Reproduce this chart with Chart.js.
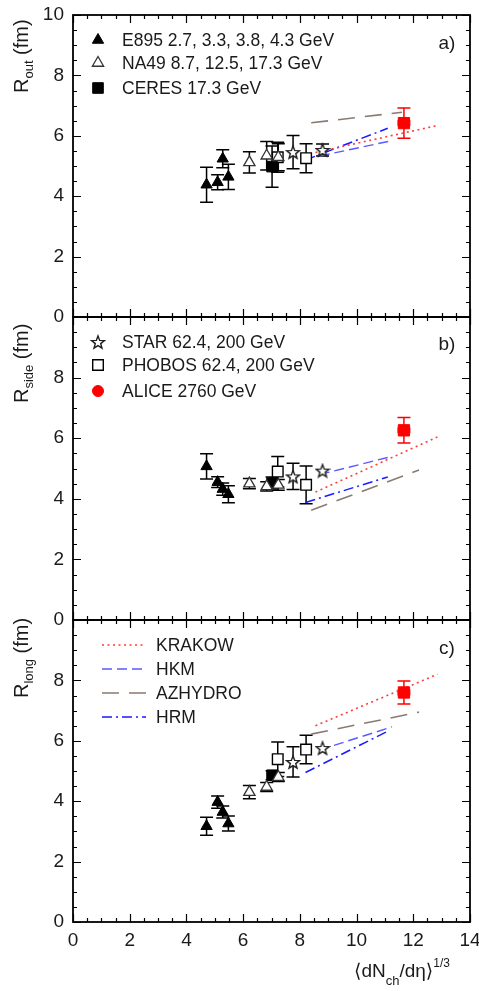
<!DOCTYPE html>
<html>
<head>
<meta charset="utf-8">
<script src="https://cdn.jsdelivr.net/npm/chart.js@4.4.0/dist/chart.umd.min.js"></script>
<style>
  html, body { margin: 0; padding: 0; background: #fff; }
  #wrap { position: relative; width: 479px; height: 991px; }
  #wrap canvas { position: absolute; left: 0; top: 0; }
</style>
</head>
<body>
<div id="wrap">
  <canvas id="cOut" width="479" height="991"></canvas>
  <canvas id="cSide" width="479" height="991"></canvas>
  <canvas id="cLong" width="479" height="991"></canvas>
</div>
<script>
// axes
const xTicks = [0, 2, 4, 6, 8, 10, 12, 14];
const yTicks = [0, 2, 4, 6, 8, 10];

// E895 (AGS)
const e895X = [4.71, 5.10, 5.28, 5.48];
const e895Out = [4.38, 4.46, 5.24, 4.64];
const e895OutErr = [0.58, 0.25, 0.30, 0.42];
const e895Side = [5.07, 4.55, 4.32, 4.15];
const e895SideErr = [0.42, 0.18, 0.20, 0.28];
const e895Long = [3.17, 3.97, 3.64, 3.26];
const e895LongErr = [0.30, 0.20, 0.20, 0.25];

// NA49
const na49X = [6.22, 6.83, 7.24];
const na49Out = [5.12, 5.34, 5.29];
const na49OutErr = [0.35, 0.47, 0.45];
const na49Side = [4.50, 4.41, 4.46];
const na49SideErr = [0.17, 0.15, 0.18];
const na49Long = [4.30, 4.47, 4.80];
const na49LongErr = [0.22, 0.15, 0.15];

// CERES
const ceresX = [7.02];
const ceresOut = [4.98];
const ceresOutErr = [0.68];
const ceresSide = [4.52];
const ceresSideErr = [0.20];
const ceresLong = [4.86];
const ceresLongErr = [0.15];

// STAR
const starX = [7.76, 8.80];
const starOut = [5.46, 5.53];
const starOutErr = [0.55, 0.20];
const starSide = [4.74, 4.93];
const starSideErr = [0.43, 0];
const starLong = [5.30, 5.76];
const starLongErr = [0.50, 0];

// PHOBOS
const phobosX = [7.22, 8.22];
const phobosOut = [5.29, 5.26];
const phobosOutErr = [0.50, 0.48];
const phobosSide = [4.90, 4.46];
const phobosSideErr = [0.50, 0.62];
const phobosLong = [5.39, 5.71];
const phobosLongErr = [0.57, 0.47];

// ALICE
const aliceX = [11.67];
const aliceXErr = [0.2];
const aliceOut = [6.42];
const aliceOutErr = [0.50];
const aliceSide = [6.26];
const aliceSideErr = [0.42];
const aliceLong = [7.60];
const aliceLongErr = [0.38];

// model predictions
const krakowX = [8.55, 12.85];
const krakowOut = [5.45, 6.34];
const krakowSide = [4.22, 6.04];
const krakowLong = [6.50, 8.20];

const hkmX = [8.70, 11.25];
const hkmOut = [5.33, 5.84];
const hkmSide = [4.80, 5.40];
const hkmLong = [5.70, 6.46];

const azhydroX = [8.40, 12.20];
const azhydroOutX = [8.40, 11.60];
const azhydroOut = [6.43, 6.78];
const azhydroSide = [3.62, 4.95];
const azhydroLong = [6.22, 6.95];

const hrmX = [8.20, 11.10];
const hrmOut = [5.20, 6.25];
const hrmSide = [3.88, 4.72];
const hrmLong = [4.95, 6.32];

const FONT = '"Liberation Sans", Arial, "DejaVu Sans", sans-serif';
const TEXT = '#1a1a1a';

function pts(xs, ys) {
  return xs.map((x, i) => ({ x: x, y: ys[i] }));
}

// five-pointed open star marker
function starMarker(size) {
  const c = document.createElement('canvas');
  c.width = c.height = size;
  const g = c.getContext('2d');
  const cx = size / 2, cy = size / 2 + 0.7, R = size / 2 - 1.2, r = R * 0.42;
  g.beginPath();
  for (let k = 0; k < 10; k++) {
    const a = -Math.PI / 2 + k * Math.PI / 5;
    const rr = k % 2 ? r : R;
    g.lineTo(cx + rr * Math.cos(a), cy + rr * Math.sin(a));
  }
  g.closePath();
  g.fillStyle = '#fff';
  g.fill();
  g.lineWidth = 1.4;
  g.strokeStyle = '#1e1e1e';
  g.stroke();
  return c;
}
const STAR = starMarker(16);

const markers = {
  e895: { pointStyle: 'triangle', radius: 6.5, bg: '#000', border: '#000', bw: 1 },
  na49: { pointStyle: 'triangle', radius: 6.5, bg: '#fff', border: '#333', bw: 1.3 },
  ceres: { pointStyle: 'rect', radius: 7.5, bg: '#000', border: '#000', bw: 1 },
  star: { pointStyle: STAR, radius: 7, bg: '#fff', border: '#333', bw: 1 },
  phobos: { pointStyle: 'rect', radius: 7.5, bg: '#fff', border: '#000', bw: 1.4 },
  alice: { pointStyle: 'rect', radius: 8, bg: '#ff0000', border: '#ff0000', bw: 1 },
  aliceKey: { pointStyle: 'circle', radius: 5.5, bg: '#ff0000', border: '#ff0000', bw: 1 }
};

const models = {
  krakow: { color: '#ff3b3b', dash: [2, 3.5], width: 1.6 },
  hkm: { color: '#5a5aff', dash: [10, 5], width: 1.4 },
  azhydro: { color: '#8a7a70', dash: [17, 10], width: 1.6 },
  hrm: { color: '#1a1aff', dash: [10, 4, 2, 4], width: 1.5 }
};

function pointSet(label, m, data, yErr, xErr, errColor) {
  return {
    label: label,
    data: data,
    yErr: yErr,
    xErr: xErr,
    errColor: errColor || '#000',
    pointStyle: m.pointStyle,
    pointRadius: m.radius,
    pointBackgroundColor: m.bg,
    pointBorderColor: m.border,
    pointBorderWidth: m.bw,
    showLine: false,
    order: 1
  };
}

function modelSet(label, m, data) {
  return {
    label: label,
    data: data,
    showLine: true,
    pointRadius: 0,
    borderColor: m.color,
    borderDash: m.dash,
    borderWidth: m.width,
    fill: false,
    order: 2
  };
}

function drawSubText(ctx, x, y, parts) {
  // parts: [text, size, dy]
  let cx = x;
  parts.forEach(p => {
    ctx.font = p[1] + 'px ' + FONT;
    ctx.fillText(p[0], cx, y + p[2]);
    cx += ctx.measureText(p[0]).width;
  });
}

const panelPlugin = {
  id: 'panel',
  beforeDatasetsDraw(chart) {
    const ctx = chart.ctx;
    const xs = chart.scales.x, ys = chart.scales.y;
    ctx.save();
    ctx.lineWidth = 1.5;
    chart.data.datasets.forEach(ds => {
      if (!ds.yErr) return;
      ctx.strokeStyle = ds.errColor;
      ds.data.forEach((p, i) => {
        const px = xs.getPixelForValue(p.x);
        const e = ds.yErr[i];
        if (e > 0) {
          const y1 = ys.getPixelForValue(p.y + e), y2 = ys.getPixelForValue(p.y - e);
          ctx.beginPath();
          ctx.moveTo(px, y1); ctx.lineTo(px, y2);
          ctx.moveTo(px - 6.5, y1); ctx.lineTo(px + 6.5, y1);
          ctx.moveTo(px - 6.5, y2); ctx.lineTo(px + 6.5, y2);
          ctx.stroke();
        }
        if (ds.xErr && ds.xErr[i] > 0) {
          const py = ys.getPixelForValue(p.y);
          const x1 = xs.getPixelForValue(p.x - ds.xErr[i]), x2 = xs.getPixelForValue(p.x + ds.xErr[i]);
          ctx.beginPath();
          ctx.moveTo(x1, py); ctx.lineTo(x2, py);
          ctx.moveTo(x1, py - 3); ctx.lineTo(x1, py + 3);
          ctx.moveTo(x2, py - 3); ctx.lineTo(x2, py + 3);
          ctx.stroke();
        }
      });
    });
    ctx.restore();
  },
  afterDraw(chart, args, opts) {
    const ctx = chart.ctx;
    const a = chart.chartArea;
    const xs = chart.scales.x, ys = chart.scales.y;
    ctx.save();

    // inward ticks on all four sides
    ctx.strokeStyle = '#000';
    ctx.lineWidth = 1.2;
    ctx.beginPath();
    for (let v = 0; v <= 14.001; v += 0.5) {
      const px = Math.round(xs.getPixelForValue(v)) + 0.5;
      const len = Math.abs(v % 2) < 0.01 ? 8 : 4;
      ctx.moveTo(px, a.top); ctx.lineTo(px, a.top + len);
      ctx.moveTo(px, a.bottom); ctx.lineTo(px, a.bottom - len);
    }
    for (let v = 0; v <= 10.001; v += 0.5) {
      const py = Math.round(ys.getPixelForValue(v)) + 0.5;
      const len = Math.abs(v % 2) < 0.01 ? 8 : 4;
      ctx.moveTo(a.left, py); ctx.lineTo(a.left + len, py);
      ctx.moveTo(a.right, py); ctx.lineTo(a.right - len, py);
    }
    ctx.stroke();

    // frame
    ctx.lineWidth = 1.8;
    ctx.strokeRect(a.left, a.top, a.right - a.left, a.bottom - a.top);

    // panel letter
    ctx.fillStyle = TEXT;
    ctx.font = '19px ' + FONT;
    ctx.textAlign = 'center';
    ctx.textBaseline = 'middle';
    ctx.fillText(opts.letter, 447, opts.letterY);

    // y title, rotated, anchored at the top of the panel
    ctx.save();
    ctx.translate(28, opts.titleY);
    ctx.rotate(-Math.PI / 2);
    ctx.textAlign = 'left';
    ctx.textBaseline = 'alphabetic';
    drawSubText(ctx, 0, 0, [['R', 20, 0], [opts.sub, 13, 5], [' (fm)', 20, 0]]);
    ctx.restore();

    // legend
    ctx.textAlign = 'left';
    ctx.textBaseline = 'middle';
    (opts.keys || []).forEach(k => {
      if (k.marker) {
        const m = k.marker;
        ctx.fillStyle = m.bg;
        ctx.strokeStyle = m.border;
        ctx.lineWidth = m.bw;
        Chart.helpers.drawPoint(ctx, {
          pointStyle: m.pointStyle, radius: m.radius, rotation: 0, borderWidth: m.bw
        }, 98, k.y);
      } else if (k.line) {
        ctx.strokeStyle = k.line.color;
        ctx.lineWidth = k.line.width;
        ctx.setLineDash(k.line.dash);
        ctx.beginPath();
        ctx.moveTo(102, k.y); ctx.lineTo(146, k.y);
        ctx.stroke();
        ctx.setLineDash([]);
      }
      ctx.fillStyle = TEXT;
      ctx.font = '17.5px ' + FONT;
      ctx.fillText(k.text, k.tx, k.y + 1);
    });

    // x title under the bottom panel
    if (opts.xTitle) {
      ctx.fillStyle = TEXT;
      ctx.textAlign = 'left';
      ctx.textBaseline = 'alphabetic';
      drawSubText(ctx, 354, 977, [['\u27E8dN', 19, 0], ['ch', 13, 8], ['/d\u03B7\u27E9', 19, 0], ['1/3', 12, -10]]);
    }
    ctx.restore();
  }
};

function makePanel(canvasId, cfg) {
  return new Chart(document.getElementById(canvasId), {
    type: 'scatter',
    data: { datasets: cfg.datasets },
    options: {
      responsive: false,
      animation: false,
      events: [],
      devicePixelRatio: 1,
      layout: {
        padding: { top: cfg.top, bottom: cfg.xAxis ? 0 : 991 - cfg.bottom, left: 0, right: 9 }
      },
      scales: {
        x: {
          type: 'linear',
          min: 0, max: 14,
          display: cfg.xAxis,
          afterBuildTicks: s => { s.ticks = xTicks.map(v => ({ value: v })); },
          afterFit: s => {
            s.height = cfg.xAxis ? 991 - cfg.bottom : 0;
            s.paddingLeft = 0; s.paddingRight = 0;
          },
          grid: { display: false, drawTicks: false },
          border: { display: false },
          ticks: { font: { size: 19, family: FONT }, color: TEXT, padding: 7, maxRotation: 0 }
        },
        y: {
          type: 'linear',
          min: 0, max: 10,
          afterBuildTicks: s => { s.ticks = yTicks.map(v => ({ value: v })); },
          afterFit: s => { s.width = 73; s.paddingTop = 0; s.paddingBottom = 0; },
          grid: { display: false, drawTicks: false },
          border: { display: false },
          ticks: {
            font: { size: 19, family: FONT }, color: TEXT, padding: 9,
            callback: v => (v === 10 && !cfg.showTen) ? '' : String(v)
          }
        }
      },
      plugins: {
        legend: { display: false },
        tooltip: { enabled: false },
        panel: {
          letter: cfg.letter, letterY: cfg.letterY,
          sub: cfg.sub, titleY: cfg.titleY,
          keys: cfg.keys, xTitle: cfg.xAxis
        }
      }
    },
    plugins: [panelPlugin]
  });
}

// R_out
makePanel('cOut', {
  top: 15, bottom: 317, xAxis: false, showTen: true,
  letter: 'a)', letterY: 44, sub: 'out', titleY: 93,
  keys: [
    { marker: markers.e895, text: 'E895 2.7, 3.3, 3.8, 4.3 GeV', tx: 122, y: 40 },
    { marker: markers.na49, text: 'NA49 8.7, 12.5, 17.3 GeV', tx: 122, y: 63 },
    { marker: markers.ceres, text: 'CERES 17.3 GeV', tx: 122, y: 88 }
  ],
  datasets: [
    modelSet('KRAKOW', models.krakow, pts(krakowX, krakowOut)),
    modelSet('HKM', models.hkm, pts(hkmX, hkmOut)),
    modelSet('AZHYDRO', models.azhydro, pts(azhydroOutX, azhydroOut)),
    modelSet('HRM', models.hrm, pts(hrmX, hrmOut)),
    pointSet('E895', markers.e895, pts(e895X, e895Out), e895OutErr),
    pointSet('NA49', markers.na49, pts(na49X, na49Out), na49OutErr),
    pointSet('CERES', markers.ceres, pts(ceresX, ceresOut), ceresOutErr),
    pointSet('STAR', markers.star, pts(starX, starOut), starOutErr),
    pointSet('PHOBOS', markers.phobos, pts(phobosX, phobosOut), phobosOutErr),
    pointSet('ALICE', markers.alice, pts(aliceX, aliceOut), aliceOutErr, aliceXErr, '#ff0000')
  ]
});

// R_side
makePanel('cSide', {
  top: 317, bottom: 620, xAxis: false, showTen: false,
  letter: 'b)', letterY: 345, sub: 'side', titleY: 403,
  keys: [
    { marker: markers.star, text: 'STAR 62.4, 200 GeV', tx: 122, y: 342 },
    { marker: markers.phobos, text: 'PHOBOS 62.4, 200 GeV', tx: 122, y: 365 },
    { marker: markers.aliceKey, text: 'ALICE 2760 GeV', tx: 122, y: 391 }
  ],
  datasets: [
    modelSet('KRAKOW', models.krakow, pts(krakowX, krakowSide)),
    modelSet('HKM', models.hkm, pts(hkmX, hkmSide)),
    modelSet('AZHYDRO', models.azhydro, pts(azhydroX, azhydroSide)),
    modelSet('HRM', models.hrm, pts(hrmX, hrmSide)),
    pointSet('E895', markers.e895, pts(e895X, e895Side), e895SideErr),
    pointSet('NA49', markers.na49, pts(na49X, na49Side), na49SideErr),
    pointSet('CERES', markers.ceres, pts(ceresX, ceresSide), ceresSideErr),
    pointSet('STAR', markers.star, pts(starX, starSide), starSideErr),
    pointSet('PHOBOS', markers.phobos, pts(phobosX, phobosSide), phobosSideErr),
    pointSet('ALICE', markers.alice, pts(aliceX, aliceSide), aliceSideErr, aliceXErr, '#ff0000')
  ]
});

// R_long
makePanel('cLong', {
  top: 620, bottom: 922, xAxis: true, showTen: false,
  letter: 'c)', letterY: 649, sub: 'long', titleY: 698,
  keys: [
    { line: models.krakow, text: 'KRAKOW', tx: 156, y: 645 },
    { line: models.hkm, text: 'HKM', tx: 156, y: 669 },
    { line: models.azhydro, text: 'AZHYDRO', tx: 156, y: 693 },
    { line: models.hrm, text: 'HRM', tx: 156, y: 717 }
  ],
  datasets: [
    modelSet('KRAKOW', models.krakow, pts(krakowX, krakowLong)),
    modelSet('HKM', models.hkm, pts(hkmX, hkmLong)),
    modelSet('AZHYDRO', models.azhydro, pts(azhydroX, azhydroLong)),
    modelSet('HRM', models.hrm, pts(hrmX, hrmLong)),
    pointSet('E895', markers.e895, pts(e895X, e895Long), e895LongErr),
    pointSet('NA49', markers.na49, pts(na49X, na49Long), na49LongErr),
    pointSet('CERES', markers.ceres, pts(ceresX, ceresLong), ceresLongErr),
    pointSet('STAR', markers.star, pts(starX, starLong), starLongErr),
    pointSet('PHOBOS', markers.phobos, pts(phobosX, phobosLong), phobosLongErr),
    pointSet('ALICE', markers.alice, pts(aliceX, aliceLong), aliceLongErr, aliceXErr, '#ff0000')
  ]
});
</script>
</body>
</html>
